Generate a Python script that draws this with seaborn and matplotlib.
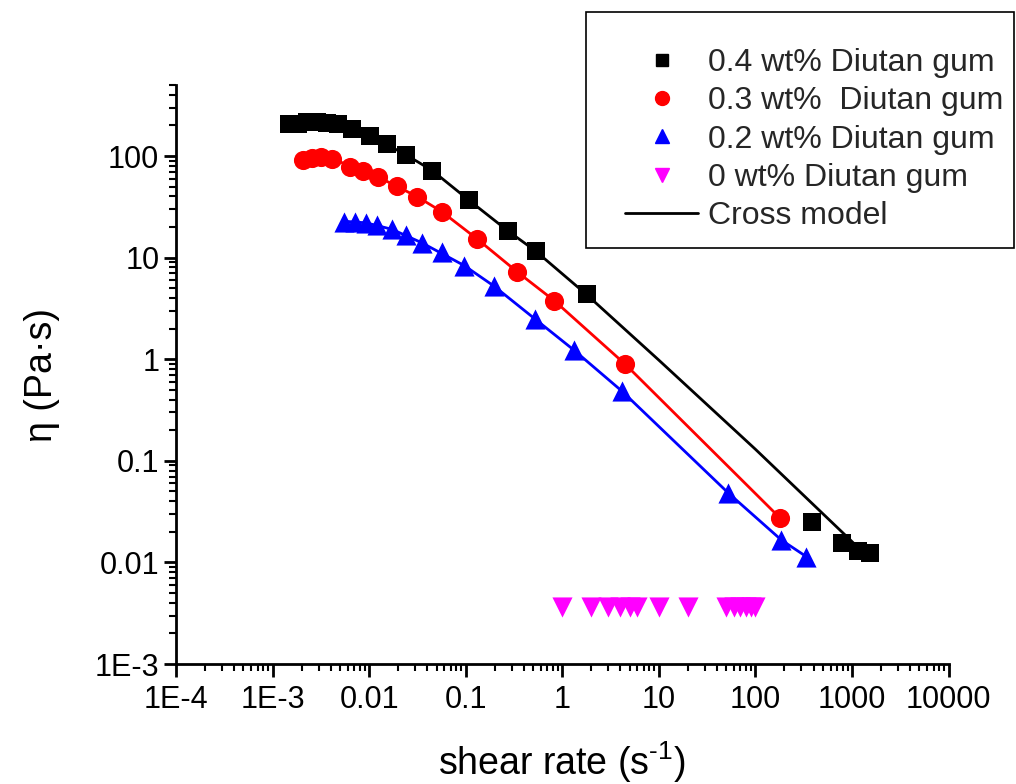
import matplotlib
matplotlib.use("Agg")
import matplotlib.pyplot as plt
from matplotlib.lines import Line2D
from matplotlib.patches import Rectangle
from matplotlib.ticker import FixedLocator, FixedFormatter, LogLocator, NullFormatter
import seaborn as sns

# Data
x04 = [0.00149, 0.00185, 0.0023, 0.00287, 0.00365, 0.00481, 0.0067, 0.0101, 0.0152, 0.0241,
       0.0446, 0.107, 0.273, 0.533, 1.82, 390, 784, 1167, 1530]
y04 = [206, 206, 216, 216, 213, 206, 183, 157, 132, 102,
       71.6, 36.9, 18.3, 11.7, 4.42, 0.0251, 0.0154, 0.0130, 0.0123]

x03 = [0.00208, 0.00255, 0.00316, 0.0041, 0.00635, 0.0086, 0.0125, 0.0194, 0.0312, 0.0566,
       0.131, 0.344, 0.826, 4.50, 179]
y03 = [91.4, 96.2, 98.4, 93.4, 78.5, 71.6, 61.6, 50.7, 39.7, 28.3,
       15.3, 7.2, 3.77, 0.891, 0.0275]

x02 = [0.00551, 0.00716, 0.00931, 0.0122, 0.0172, 0.024, 0.0351, 0.0566, 0.0964, 0.196,
       0.519, 1.32, 4.14, 52.1, 186, 337]
y02 = [22.6, 22.6, 22.0, 20.9, 19.0, 16.7, 14.0, 11.3, 8.36, 5.25,
       2.50, 1.23, 0.486, 0.0485, 0.0166, 0.0114]

x00 = [1, 2, 3, 4, 5, 6, 10, 20, 50, 60, 70, 80, 90, 100]
y00 = [0.0036, 0.0036, 0.0036, 0.0036, 0.0036, 0.0036, 0.0036,
       0.0036, 0.0036, 0.0036, 0.0036, 0.0036, 0.0036, 0.0036]

# Cross model curves
fit04_x = [0.0015, 0.0025, 0.004, 0.007, 0.01, 0.024, 0.045, 0.107, 0.27, 0.53,
           1.8, 10, 100, 964, 1167]
fit04_y = [210, 212, 207, 184, 160, 103, 72, 37, 18.5, 11.6,
           4.3, 0.98, 0.13, 0.0166, 0.0139]
fit03_x = [0.00208, 0.003, 0.0041, 0.0064, 0.0125, 0.0312, 0.0566, 0.131, 0.344, 0.826, 4.5, 179]
fit03_y = [93, 96, 94, 80, 62, 40, 28.3, 15.3, 7.2, 3.77, 0.89, 0.0275]
fit02_x = [0.0055, 0.0093, 0.0172, 0.0351, 0.0964, 0.196, 0.519, 1.32, 4.14, 52.1, 186, 337]
fit02_y = [22.8, 22.0, 19.0, 14.0, 8.36, 5.25, 2.5, 1.23, 0.486, 0.0485, 0.0166, 0.0114]

labels = ["0.4 wt% Diutan gum", "0.3 wt%  Diutan gum", "0.2 wt% Diutan gum",
          "0 wt% Diutan gum", "Cross model"]
x_ticks = [1e-4, 1e-3, 1e-2, 1e-1, 1, 10, 100, 1000, 10000]
x_ticklabels = ["1E-4", "1E-3", "0.01", "0.1", "1", "10", "100", "1000", "10000"]
y_ticks = [1e-3, 1e-2, 1e-1, 1, 10, 100]
y_ticklabels = ["1E-3", "0.01", "0.1", "1", "10", "100"]

sns.set_theme(style="ticks")
plt.rcParams['font.family'] = ['Liberation Sans', 'DejaVu Sans']
plt.rcParams['mathtext.fontset'] = 'custom'
plt.rcParams['mathtext.rm'] = 'Liberation Sans'

W, H = 1016, 784
fig = plt.figure(figsize=(W / 100, H / 100), dpi=100)
ax = fig.add_axes([176 / W, 1 - 664 / H, (948.5 - 176) / W, (664 - 85) / H])

series = [
    (x04, y04, fit04_x, fit04_y, "black", "s", 150),
    (x03, y03, fit03_x, fit03_y, "red", "o", 190),
    (x02, y02, fit02_x, fit02_y, "blue", "^", 210),
]
for xs, ys, fx, fy, col, mk, sz in series:
    sns.lineplot(x=fx, y=fy, ax=ax, color=col, lw=2.0, estimator=None, sort=False, zorder=2)
    sns.scatterplot(x=xs, y=ys, ax=ax, color=col, marker=mk, s=sz, linewidth=0, zorder=3)
sns.scatterplot(x=x00, y=y00, ax=ax, color="magenta", marker="v", s=210, linewidth=0, zorder=3)

ax.set_xscale("log")
ax.set_yscale("log")
ax.set_xlim(1e-4, 1e4)
ax.set_ylim(1e-3, 500)

for axis, ticks, tlabels in [(ax.xaxis, x_ticks, x_ticklabels), (ax.yaxis, y_ticks, y_ticklabels)]:
    axis.set_major_locator(FixedLocator(ticks))
    axis.set_major_formatter(FixedFormatter(tlabels))
    axis.set_minor_locator(LogLocator(base=10, subs=range(2, 10), numticks=50))
    axis.set_minor_formatter(NullFormatter())

ax.tick_params(which="major", direction="out", length=9, width=2, labelsize=22, color="black",
               labelcolor="black")
ax.tick_params(axis="y", which="major", pad=3)
ax.tick_params(axis="x", which="major", pad=6)
ax.tick_params(which="minor", direction="out", length=5, width=1.5, color="black")
for side in ["top", "right"]:
    ax.spines[side].set_visible(False)
for side in ["left", "bottom"]:
    ax.spines[side].set_linewidth(2)
    ax.spines[side].set_color("black")

ax.set_xlabel(r"shear rate (s$^{\text{-1}}$)", fontsize=27, color="black")
ax.set_ylabel("η (Pa·s)", fontsize=27, color="black")
ax.xaxis.set_label_coords(0.5, -0.13)
ax.yaxis.set_label_coords(-0.15, 0.5)

# legend box sits partly outside the axes, drawn in figure pixels
fig.patches.append(Rectangle((586 / W, 1 - 248 / H), (1014 - 586) / W, (248 - 12) / H,
                             transform=fig.transFigure, fill=False, edgecolor="black",
                             linewidth=1.2, zorder=5))
handles = [
    Line2D([], [], ls="none", marker="s", color="black", ms=8),
    Line2D([], [], ls="none", marker="o", color="red", ms=10),
    Line2D([], [], ls="none", marker="^", color="blue", ms=10),
    Line2D([], [], ls="none", marker="v", color="magenta", ms=10),
    Line2D([], [], color="black", lw=2.0),
]
leg = fig.legend(handles, labels, loc="upper left", bbox_to_anchor=(625 / W, 1 - 48 / H),
                 bbox_transform=fig.transFigure, fontsize=23, frameon=False,
                 borderpad=0, borderaxespad=0, handlelength=2.3, handletextpad=0.3,
                 labelspacing=0.26)

fig.savefig("out.png", dpi=100)
